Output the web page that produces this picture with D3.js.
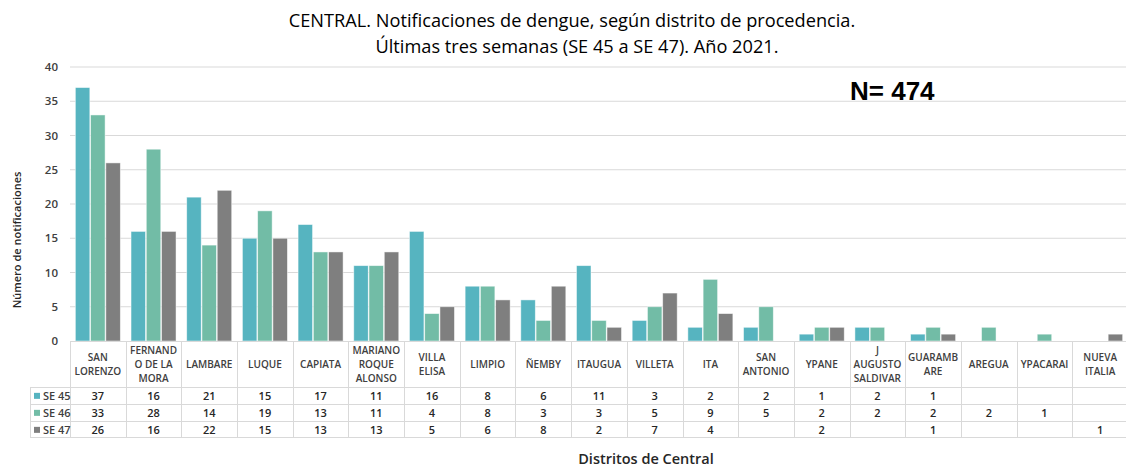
<!DOCTYPE html>
<html>
<head>
<meta charset="utf-8">
<script src="https://cdn.jsdelivr.net/npm/d3@7"></script>
<style>
  body { margin: 0; background: #fff; }
  svg { display: block; font-family: "Open Sans", "Noto Sans", sans-serif; }
</style>
</head>
<body>
<svg id="chart" width="1126" height="469"></svg>
<script>
// datos
let districts = ["SAN LORENZO", "FERNANDO DE LA MORA", "LAMBARE", "LUQUE", "CAPIATA", "MARIANO ROQUE ALONSO",
  "VILLA ELISA", "LIMPIO", "ÑEMBY", "ITAUGUA", "VILLETA", "ITA", "SAN ANTONIO", "YPANE", "J AUGUSTO SALDIVAR",
  "GUARAMBARE", "AREGUA", "YPACARAI", "NUEVA ITALIA"];
// como se cortan los nombres en la tabla
let districtLines = [["SAN", "LORENZO"], ["FERNAND", "O DE LA", "MORA"], ["LAMBARE"], ["LUQUE"], ["CAPIATA"],
  ["MARIANO", "ROQUE", "ALONSO"], ["VILLA", "ELISA"], ["LIMPIO"], ["ÑEMBY"], ["ITAUGUA"], ["VILLETA"], ["ITA"],
  ["SAN", "ANTONIO"], ["YPANE"], ["J", "AUGUSTO", "SALDIVAR"], ["GUARAMB", "ARE"], ["AREGUA"], ["YPACARAI"],
  ["NUEVA", "ITALIA"]];
let weeks = ["SE 45", "SE 46", "SE 47"];
let se45 = [37, 16, 21, 15, 17, 11, 16, 8, 6, 11, 3, 2, 2, 1, 2, 1, null, null, null];
let se46 = [33, 28, 14, 19, 13, 11, 4, 8, 3, 3, 5, 9, 5, 2, 2, 2, 2, 1, null];
let se47 = [26, 16, 22, 15, 13, 13, 5, 6, 8, 2, 7, 4, null, 2, null, 1, null, null, 1];
let yTicks = [0, 5, 10, 15, 20, 25, 30, 35, 40];
let colors = ["#56B4C0", "#72BCA6", "#7F7F7F"];

let series = [se45, se46, se47];
let margin = {top: 67, right: 0, bottom: 128, left: 70};
let W = 1126, H = 469;
let plotBottom = 341;
let svg = d3.select("#chart");

let x0 = d3.scaleBand().domain(districts).range([margin.left, 1128]).padding(0);
let x1 = d3.scaleBand().domain(weeks).range([0, x0.bandwidth()]).paddingInner(0.05).paddingOuter(0.35);
let y = d3.scaleLinear().domain([0, 40]).range([plotBottom, margin.top]);
let color = d3.scaleOrdinal(weeks, colors);

// titulo
let title = svg.append("g").attr("text-anchor", "middle").attr("fill", "#000").attr("font-size", 18.2);
title.append("text").attr("x", 572).attr("y", 27).text("CENTRAL. Notificaciones de dengue, según distrito de procedencia.");
title.append("text").attr("x", 577).attr("y", 53).text("Últimas tres semanas (SE 45 a SE 47). Año 2021.");

// grilla
svg.append("g")
  .selectAll("line")
  .data(yTicks.filter(d => d > 0))
  .join("line")
  .attr("x1", margin.left).attr("x2", W)
  .attr("y1", d => y(d)).attr("y2", d => y(d))
  .attr("stroke", "#d9d9d9").attr("stroke-width", 1);

// eje y
let yAxis = svg.append("g")
  .attr("transform", `translate(${margin.left},0)`)
  .call(d3.axisLeft(y).tickValues(yTicks).tickSize(0).tickPadding(12));
yAxis.select(".domain").remove();
yAxis.selectAll("text").attr("font-size", 11.5).attr("font-family", "Open Sans").attr("font-weight", 600).attr("fill", "#404040");

svg.append("text")
  .attr("transform", "translate(21,240) rotate(-90)")
  .attr("text-anchor", "middle")
  .attr("font-size", 11).attr("font-weight", 600).attr("fill", "#262626")
  .text("Número de notificaciones");

// barras
let bars = [];
districts.forEach((d, i) => {
  weeks.forEach((w, j) => {
    if (series[j][i] != null) bars.push({district: d, week: w, value: series[j][i]});
  });
});
svg.append("g")
  .selectAll("rect")
  .data(bars)
  .join("rect")
  .attr("x", d => x0(d.district) + x1(d.week))
  .attr("width", x1.bandwidth())
  .attr("y", d => y(d.value))
  .attr("height", d => y(0) - y(d.value))
  .attr("fill", d => color(d.week))
  .attr("stroke", "#ffffff").attr("stroke-opacity", 0.6).attr("stroke-width", 0.8);

// tabla de datos
let rowTop = [387, 404, 421];
let rowH = 16.7;
let tableBottom = 437.5;
let table = svg.append("g").attr("stroke", "#d9d9d9").attr("stroke-width", 1);
// lineas horizontales
table.append("line").attr("x1", margin.left).attr("x2", W).attr("y1", plotBottom + 0.5).attr("y2", plotBottom + 0.5);
rowTop.forEach(r => table.append("line").attr("x1", 30).attr("x2", W).attr("y1", r + 0.5).attr("y2", r + 0.5));
table.append("line").attr("x1", 30).attr("x2", W).attr("y1", tableBottom).attr("y2", tableBottom);
// lineas verticales
table.append("line").attr("x1", 30.5).attr("x2", 30.5).attr("y1", rowTop[0]).attr("y2", tableBottom);
table.selectAll("line.v")
  .data(districts)
  .join("line")
  .attr("class", "v")
  .attr("x1", d => Math.round(x0(d)) + 0.5).attr("x2", d => Math.round(x0(d)) + 0.5)
  .attr("y1", plotBottom).attr("y2", tableBottom);

// nombres de distritos
let header = svg.append("g").attr("text-anchor", "middle").attr("font-size", 10).attr("font-weight", 600).attr("fill", "#404040");
districts.forEach((d, i) => {
  let lines = districtLines[i];
  let cx = x0(d) + x0.bandwidth() / 2;
  let start = 364 - (lines.length - 1) * 14 / 2;
  lines.forEach((ln, k) => {
    header.append("text").attr("x", cx).attr("y", start + k * 14).attr("dy", "0.35em").text(ln);
  });
});

// valores y leyenda
let cells = svg.append("g").attr("text-anchor", "middle").attr("font-size", 11).attr("font-weight", 600).attr("fill", "#262626");
weeks.forEach((w, j) => {
  let cy = rowTop[j] + rowH / 2 + 0.5;
  svg.append("rect").attr("x", 34).attr("y", cy - 3).attr("width", 6).attr("height", 6).attr("fill", color(w));
  svg.append("text").attr("x", 43).attr("y", cy).attr("dy", "0.35em")
    .attr("font-size", 11).attr("font-weight", 600).attr("fill", "#404040").text(w);
  districts.forEach((d, i) => {
    let v = series[j][i];
    if (v == null) return;
    cells.append("text").attr("x", x0(d) + x0.bandwidth() / 2).attr("y", cy).attr("dy", "0.35em").text(v);
  });
});

// titulo eje x
svg.append("text")
  .attr("x", 646).attr("y", 459).attr("dy", "0.35em")
  .attr("text-anchor", "middle").attr("font-size", 14.5).attr("font-weight", 600).attr("fill", "#262626")
  .text("Distritos de Central");

// total
svg.append("text")
  .attr("x", 850).attr("y", 100)
  .attr("font-family", "Liberation Sans, Arial, sans-serif").attr("font-weight", "bold").attr("font-size", 26)
  .attr("fill", "#000")
  .text("N= 474");
</script>
</body>
</html>
